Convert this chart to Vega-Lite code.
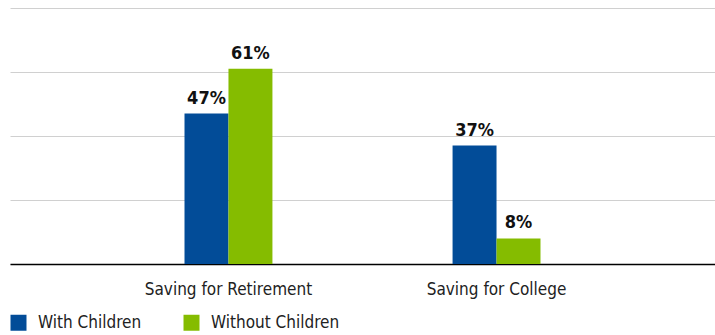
{
  "$schema": "https://vega.github.io/schema/vega-lite/v6.json",
  "width": 705,
  "height": 256,
  "autosize": {"type": "none"},
  "padding": {"left": 10, "top": 8, "right": 0, "bottom": 71},
  "background": "white",
  "data": {
    "values": [
      {"category": "Saving for Retirement", "group": "With Children", "value": 0.47},
      {"category": "Saving for Retirement", "group": "Without Children", "value": 0.61},
      {"category": "Saving for College", "group": "With Children", "value": 0.37},
      {"category": "Saving for College", "group": "Without Children", "value": 0.08}
    ]
  },
  "encoding": {
    "x": {
      "field": "category",
      "type": "nominal",
      "sort": ["Saving for Retirement", "Saving for College"],
      "scale": {"paddingInner": 0.672, "paddingOuter": 0.651},
      "axis": {
        "title": null,
        "labelAngle": 0,
        "ticks": false,
        "tickSize": 0,
        "domain": true,
        "domainColor": "#000000",
        "domainWidth": 1.5,
        "labelFont": "Liberation Sans Narrow, DejaVu Sans Condensed, Roboto",
        "labelFontSize": 17,
        "labelColor": "#222222",
        "labelPadding": 17
      }
    },
    "xOffset": {
      "field": "group",
      "type": "nominal",
      "sort": ["With Children", "Without Children"],
      "scale": {"paddingInner": 0, "paddingOuter": 0}
    },
    "y": {
      "field": "value",
      "type": "quantitative",
      "scale": {"domain": [0, 0.8], "nice": false},
      "axis": {
        "title": null,
        "values": [0, 0.2, 0.4, 0.6, 0.8],
        "labels": false,
        "ticks": false,
        "domain": false,
        "grid": true,
        "gridColor": "#d0d0d0",
        "gridWidth": 1
      }
    }
  },
  "layer": [
    {
      "mark": {"type": "bar"},
      "encoding": {
        "color": {
          "field": "group",
          "type": "nominal",
          "sort": ["With Children", "Without Children"],
          "scale": {"domain": ["With Children", "Without Children"], "range": ["#024c98", "#85bc00"]},
          "legend": {
            "orient": "none",
            "legendX": 0,
            "legendY": 306,
            "direction": "horizontal",
            "title": null,
            "symbolType": "square",
            "symbolSize": 256,
            "symbolStrokeWidth": 0,
            "symbolOpacity": 1,
            "labelFont": "Liberation Sans Narrow, DejaVu Sans Condensed, Roboto",
            "labelFontSize": 17,
            "labelColor": "#222222",
            "labelOffset": 11,
            "columnPadding": 41,
            "padding": 0
          }
        }
      }
    },
    {
      "mark": {
        "type": "text",
        "baseline": "alphabetic",
        "dy": -10,
        "font": "Liberation Sans Narrow, DejaVu Sans Condensed, Roboto",
        "fontSize": 18,
        "fontWeight": "bold",
        "color": "#111111"
      },
      "encoding": {
        "text": {"field": "value", "type": "quantitative", "format": ".0%"}
      }
    }
  ],
  "config": {"view": {"stroke": null}}
}
